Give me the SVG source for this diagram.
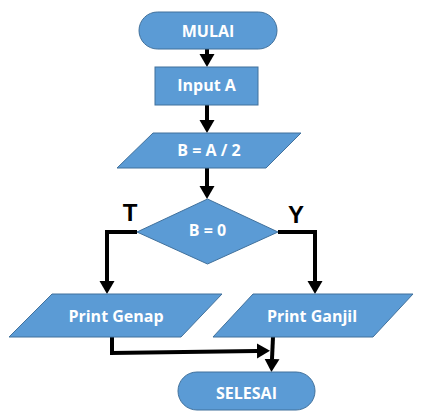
<svg xmlns="http://www.w3.org/2000/svg" width="422" height="420" viewBox="0 0 422 420">
<style>
.shape{fill:#5B9BD5;stroke:#41719C;stroke-width:1}
.lbl{fill:#fff;font-family:"Open Sans","Liberation Sans",sans-serif;font-weight:bold;font-size:16px;text-anchor:middle;dominant-baseline:central}
.br{fill:#000;font-family:"Liberation Sans",sans-serif;font-weight:bold;font-size:24px;text-anchor:middle;dominant-baseline:central}
.con{fill:none;stroke:#000;stroke-width:4;marker-end:url(#ah)}
</style>
<defs>
<marker id="ah" markerUnits="userSpaceOnUse" markerWidth="14" markerHeight="16" refX="0" refY="7.5" orient="auto" viewBox="0 0 14 15">
<path d="M0,0 L13,7.5 L0,15 z" fill="#000"/>
</marker>
</defs>
<rect width="422" height="420" fill="#fff"/>
<g id="connectors">
<path class="con" d="M207,49 V54"/>
<path class="con" d="M207,105 V120"/>
<path class="con" d="M207,168 V186"/>
<path class="con" d="M137,232 H107 V281"/>
<path class="con" d="M278,232 H315 V281"/>
<path class="con" d="M112,337 V353 L257,351"/>
<path class="con" d="M273,337 L272,359"/>
</g>
<g id="mulai"><rect class="shape" x="139" y="12" width="138" height="37" rx="18.5"/><text class="lbl" x="208" y="31">MULAI</text></g>
<g id="input"><rect class="shape" x="155" y="67" width="103" height="38"/><text class="lbl" x="206.5" y="85">Input A</text></g>
<g id="proses"><polygon class="shape" points="153,133 301,133 266,168 117,168"/><text class="lbl" x="209" y="150">B = A / 2</text></g>
<g id="decision"><polygon class="shape" points="207.5,199 278,232 207.5,264 137,232"/><text class="lbl" x="207.5" y="230">B = 0</text></g>
<g id="labelT"><text class="br" x="130" y="212">T</text></g>
<g id="labelY"><text class="br" x="296" y="214">Y</text></g>
<g id="genap"><polygon class="shape" points="52,294 222,294 181,337 9,337"/><text class="lbl" x="116" y="316">Print Genap</text></g>
<g id="ganjil"><polygon class="shape" points="253,294 413,294 373,337 213,337"/><text class="lbl" x="312" y="316">Print Ganjil</text></g>
<g id="selesai"><rect class="shape" x="178" y="372" width="137" height="38" rx="19"/><text class="lbl" x="246.5" y="393">SELESAI</text></g>
</svg>
